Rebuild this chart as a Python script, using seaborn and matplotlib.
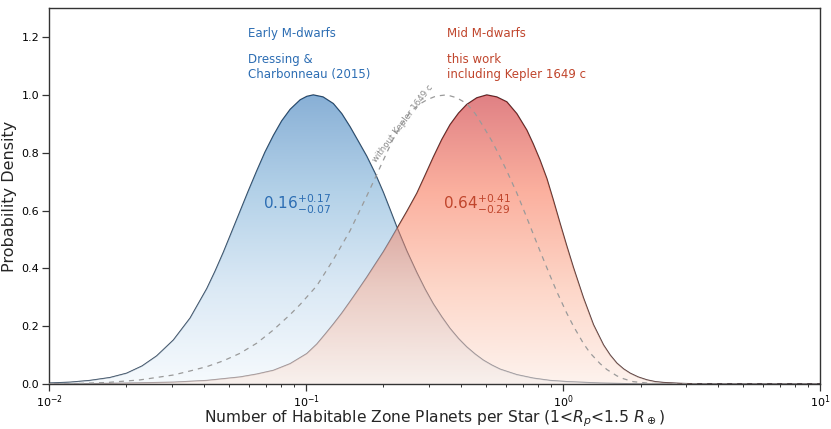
import numpy as np
import matplotlib
matplotlib.use("Agg")
import matplotlib.pyplot as plt
from matplotlib.colors import LinearSegmentedColormap, to_rgb
import seaborn as sns

# posterior curves: log10(N per star) and peak-normalised density
early_logx = [-2.0, -1.918, -1.841, -1.763, -1.698, -1.638, -1.581, -1.516, -1.451, -1.386,
              -1.354, -1.322, -1.289, -1.257, -1.226, -1.192, -1.16, -1.127, -1.095, -1.062,
              -1.023, -0.997, -0.972, -0.934, -0.894, -0.861, -0.829, -0.797, -0.764, -0.732,
              -0.699, -0.673, -0.647, -0.608, -0.569, -0.537, -0.505, -0.472, -0.44, -0.407,
              -0.375, -0.342, -0.31, -0.277, -0.245, -0.18, -0.116, -0.051, 0.014, 0.144,
              0.3, 1.0]
early_dens = [0.003, 0.006, 0.012, 0.022, 0.037, 0.062, 0.097, 0.152, 0.228, 0.33,
              0.39, 0.455, 0.527, 0.597, 0.665, 0.737, 0.802, 0.86, 0.91, 0.95,
              0.983, 0.995, 1.0, 0.993, 0.97, 0.935, 0.89, 0.84, 0.788, 0.73,
              0.662, 0.603, 0.543, 0.46, 0.385, 0.328, 0.277, 0.232, 0.192, 0.157,
              0.128, 0.103, 0.082, 0.065, 0.051, 0.032, 0.02, 0.012, 0.008, 0.003,
              0.0, 0.0]

mid_logx = [-2.0, -1.841, -1.685, -1.516, -1.386, -1.257, -1.192, -1.127, -1.062, -0.997,
            -0.958, -0.926, -0.894, -0.861, -0.829, -0.797, -0.764, -0.732, -0.699, -0.673,
            -0.647, -0.608, -0.569, -0.537, -0.505, -0.472, -0.44, -0.407, -0.375, -0.336,
            -0.297, -0.258, -0.219, -0.18, -0.141, -0.116, -0.09, -0.063, -0.038, -0.012,
            0.014, 0.04, 0.079, 0.118, 0.157, 0.183, 0.209, 0.235, 0.261, 0.292,
            0.326, 0.358, 0.39, 0.455, 0.533, 1.0]
mid_dens = [0.0, 0.001, 0.003, 0.006, 0.012, 0.024, 0.034, 0.047, 0.07, 0.105,
            0.138, 0.172, 0.207, 0.245, 0.285, 0.326, 0.369, 0.413, 0.458, 0.497,
            0.537, 0.597, 0.66, 0.722, 0.785, 0.846, 0.897, 0.937, 0.967, 0.99,
            1.0, 0.993, 0.976, 0.935, 0.878, 0.83, 0.775, 0.71, 0.636, 0.556,
            0.478, 0.403, 0.298, 0.205, 0.135, 0.10, 0.072, 0.052, 0.037, 0.024,
            0.014, 0.008, 0.005, 0.002, 0.0, 0.0]

nokep_logx = [-2.0, -1.879, -1.775, -1.646, -1.516, -1.451, -1.386, -1.322, -1.257, -1.192,
              -1.127, -1.062, -1.023, -0.958, -0.894, -0.829, -0.764, -0.712, -0.66, -0.627,
              -0.595, -0.564, -0.53, -0.494, -0.453, -0.414, -0.375, -0.342, -0.31, -0.277,
              -0.245, -0.213, -0.18, -0.148, -0.116, -0.09, -0.051, -0.025, 0.014, 0.04,
              0.079, 0.105, 0.144, 0.17, 0.209, 0.235, 0.272, 0.339, 0.416, 1.0]
nokep_dens = [0.0, 0.002, 0.005, 0.014, 0.031, 0.045, 0.06, 0.08, 0.106, 0.141,
              0.187, 0.24, 0.275, 0.34, 0.43, 0.53, 0.65, 0.75, 0.85, 0.90,
              0.94, 0.965, 0.983, 0.996, 1.0, 0.99, 0.97, 0.935, 0.89, 0.84,
              0.785, 0.725, 0.66, 0.59, 0.518, 0.46, 0.375, 0.32, 0.245, 0.20,
              0.14, 0.107, 0.07, 0.05, 0.028, 0.018, 0.008, 0.002, 0.0, 0.0]

early_title = "Early M-dwarfs"
early_ref = "Dressing &\nCharbonneau (2015)"
early_value = r"$0.16^{+0.17}_{-0.07}$"
mid_title = "Mid M-dwarfs"
mid_ref = "this work\nincluding Kepler 1649 c"
mid_value = r"$0.64^{+0.41}_{-0.29}$"
nokep_label = "without Kepler 1649 c"

blue_txt = "#2c6db3"
red_txt = "#c0452c"

sns.set_style("ticks")
plt.rcParams["font.family"] = ["DejaVu Sans"]

fig = plt.figure(figsize=(8.31, 4.29), dpi=100)
ax = fig.add_axes([0.059, 0.105, 0.928, 0.876])
ax.set_xscale("log")

early_x = 10 ** np.array(early_logx)
mid_x = 10 ** np.array(mid_logx)
nokep_x = 10 ** np.array(nokep_logx)

sns.lineplot(x=early_x, y=early_dens, ax=ax, color="#2e4258", lw=0.9, zorder=1)
sns.lineplot(x=mid_x, y=mid_dens, ax=ax, color="#4a3030", lw=0.9, zorder=1)


def shown_as(colors, alpha):
    # colours as they should look on white, undone for the image alpha
    out = [np.clip((np.array(to_rgb(c)) - (1 - alpha)) / alpha, 0, 1) for c in colors]
    return LinearSegmentedColormap.from_list("grad", out)


alpha = 0.5
blue_cmap = shown_as(["#f6fafd", "#dbe9f5", "#b3d1e8", "#88b0d6"], alpha)
red_cmap = shown_as(["#fdf3ee", "#fdd6c8", "#fbb09e", "#e08084"], alpha)
grad = np.linspace(0, 1, 256).reshape(-1, 1)

for xs, ys, cmap in [(early_x, early_dens, blue_cmap), (mid_x, mid_dens, red_cmap)]:
    shape = ax.fill_between(xs, 0, ys, facecolor="none", edgecolor="none")
    im = ax.imshow(grad, extent=[1e-2, 1e1, 0, 1.0], origin="lower", aspect="auto",
                   cmap=cmap, alpha=alpha, zorder=2, interpolation="bilinear")
    im.set_clip_path(shape.get_paths()[0], transform=ax.transData)

sns.lineplot(x=nokep_x, y=nokep_dens, ax=ax, color="#9a9a9a", lw=0.9,
             linestyle=(0, (4, 4)), zorder=3)

ax.set_xlim(1e-2, 1e1)
ax.set_ylim(0, 1.3)
ax.set_aspect("auto")
ax.set_yticks([0.0, 0.2, 0.4, 0.6, 0.8, 1.0, 1.2])

ax.text(0.0595, 1.214, early_title, color=blue_txt, fontsize=8.5, va="center", ha="left")
ax.text(0.0595, 1.096, early_ref, color=blue_txt, fontsize=8.5, va="center", ha="left",
        linespacing=1.2)
ax.text(0.354, 1.214, mid_title, color=red_txt, fontsize=8.5, va="center", ha="left")
ax.text(0.354, 1.096, mid_ref, color=red_txt, fontsize=8.5, va="center", ha="left",
        linespacing=1.2)
ax.text(0.0922, 0.622, early_value, color=blue_txt, fontsize=11, va="center", ha="center")
ax.text(0.4606, 0.622, mid_value, color=red_txt, fontsize=11, va="center", ha="center")
ax.text(0.238, 0.9, nokep_label, color="#8a8a8a", fontsize=6.2, rotation=53,
        va="center", ha="center", rotation_mode="anchor")

ax.set_xlabel(r"Number of Habitable Zone Planets per Star (1<$R_p$<1.5 $R_\oplus$)",
              fontsize=11.2)
ax.xaxis.set_label_coords(0.5, -0.066)
ax.set_ylabel("Probability Density", fontsize=11.5, labelpad=3)
ax.tick_params(axis="both", which="major", labelsize=8, length=5, width=0.9,
               color="#333333", labelcolor="black", top=False, right=False, pad=2)
ax.tick_params(axis="x", which="minor", length=2.3, width=0.7, color="#333333", top=False)
for s in ax.spines.values():
    s.set_color("#333333")
    s.set_linewidth(1.0)

fig.savefig("out.png", dpi=100)
